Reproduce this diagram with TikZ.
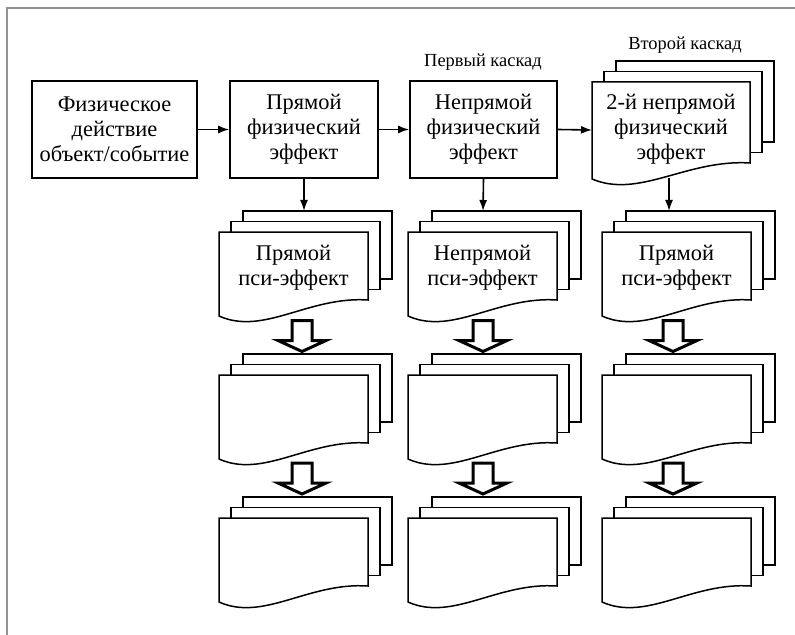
\documentclass[tikz,border=0pt]{standalone}
\usepackage{fontspec}
\setmainfont{Liberation Serif}
\usetikzlibrary{arrows.meta}
\newcommand\mdocpages[5]{% #1 x, #2 y, #3 w, #4 h, #5 unused
  \filldraw[pg] ({#1+24},{#2-21}) rectangle ++(#3,#4);
  \filldraw[pg] ({#1+12},{#2-10.5}) rectangle ++(#3,#4);
  \filldraw[pg] (#1,#2) -- ({#1},{#2+#4+16})
     .. controls ({#1+0.3*#3},{#2+#4+36}) and ({#1+0.6*#3},{#2+#4-4}) .. ({#1+#3},{#2+#4})
     -- ({#1+#3},#2) -- cycle;
}
\newcommand\hollowarrow[3]{% #1 name, #2 x, #3 top y
  \filldraw[harrow] ({#2-10},#3) -- ({#2+10},#3) -- ({#2+10},{#3+20}) -- ({#2+24},{#3+20})
    -- (#2,{#3+31}) -- ({#2-24},{#3+20}) -- ({#2-10},{#3+20}) -- cycle;
  \coordinate (#1) at (#2,{#3+31});
}
\begin{document}
\begin{tikzpicture}[x=1bp,y=-1bp,
  txt/.style={font=\fontsize{22.5}{25}\selectfont, align=center, inner sep=0pt},
  box/.style={draw, line width=1.6bp, inner sep=0pt, align=center, font=\fontsize{22.5}{25}\selectfont},
  pg/.style={fill=white, draw=black, line width=1.5bp, line join=miter},
  harrow/.style={fill=white, draw=black, line width=3bp, line join=miter},
  conn/.style={line width=1.6bp, -{Latex[length=11bp,width=8bp]}},
  captxt/.style={font=\fontsize{18.5}{20}\selectfont, inner sep=0pt}]
\useasboundingbox (0,0) rectangle (795,635);
\draw[gray!85, line width=1.8bp] (6.8,635) -- (6.8,8) -- (795,8);

% top row
\node[box, minimum width=165bp, minimum height=97bp] (b1) at (114.5,129.5) {Физическое\\действие\\объект/событие};
\node[box, minimum width=148bp, minimum height=97bp] (b2) at (304,129.5) {Прямой\\физический\\эффект};
\node[box, minimum width=147bp, minimum height=97bp] (b3) at (483.5,129.5) {Непрямой\\физический\\эффект};
\mdocpages{592}{82}{158}{81}{129}
\node[txt] (b4) at (671,129) {2-й непрямой\\физический\\эффект};
\coordinate (b4w) at (592,130);
\coordinate (b4s) at (669,178);

\node[captxt] (c1) at (483,62) {Первый каскад};
\node[captxt] (c2) at (685,45) {Второй каскад};

% row 2
\mdocpages{219}{232}{149}{68}{0}
\node[txt] (p2a) at (293.5,267.5) {Прямой\\пси-эффект};
\coordinate (p2at) at (303,211);
\mdocpages{408}{232}{149}{68}{0}
\node[txt] (p2b) at (482.5,267.5) {Непрямой\\пси-эффект};
\coordinate (p2bt) at (483,211);
\mdocpages{602}{232}{149}{68}{0}
\node[txt] (p2c) at (676.5,267.5) {Прямой\\пси-эффект};
\coordinate (p2ct) at (669,211);

% rows 3 and 4
\mdocpages{219}{375}{149}{68}{0}
\mdocpages{408}{375}{149}{68}{0}
\mdocpages{602}{375}{149}{68}{0}
\mdocpages{219}{518}{149}{68}{0}
\mdocpages{408}{518}{149}{68}{0}
\mdocpages{602}{518}{149}{68}{0}

\hollowarrow{h2a}{302}{320.5}
\hollowarrow{h2b}{483}{320.5}
\hollowarrow{h2c}{673}{320.5}
\hollowarrow{h3a}{302}{463}
\hollowarrow{h3b}{483}{463}
\hollowarrow{h3c}{673}{463}

% connectors
\draw[conn] (b1.east) -- (b2.west);
\draw[conn] (b2.east) -- (b3.west);
\draw[conn] (b3.east) -- (b4w);
\draw[conn] (b2.south) -- (b2.south |- p2at);
\draw[conn] (b3.south) -- (p2bt);
\draw[conn] (b4s) -- (p2ct);
\end{tikzpicture}
\end{document}
